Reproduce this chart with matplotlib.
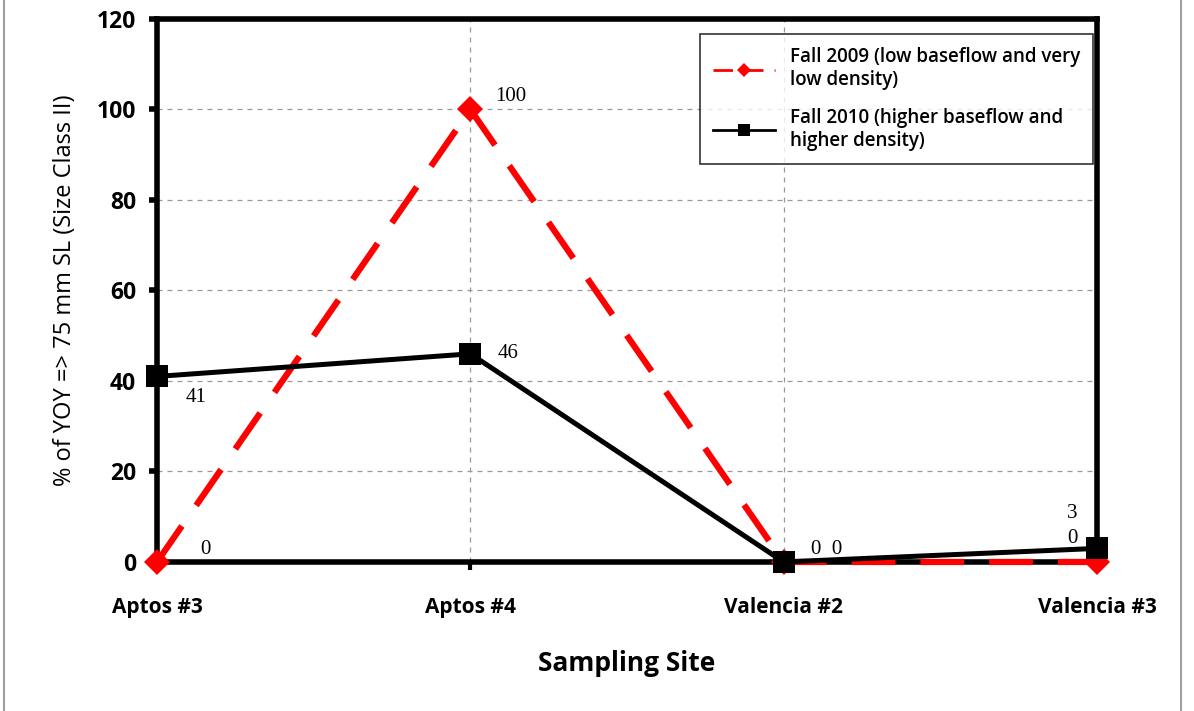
import matplotlib
matplotlib.use("Agg")
import matplotlib.pyplot as plt
from matplotlib.patches import Rectangle

sites = ["Aptos #3", "Aptos #4", "Valencia #2", "Valencia #3"]
fall_2009 = [0, 100, 0, 0]
fall_2010 = [41, 46, 0, 3]
label_2009 = "Fall 2009 (low baseflow and very\nlow density)"
label_2010 = "Fall 2010 (higher baseflow and\nhigher density)"
y_ticks = [0, 20, 40, 60, 80, 100, 120]

SANS = ["Open Sans", "DejaVu Sans"]
SERIF = ["Liberation Serif", "DejaVu Serif"]

fig = plt.figure(figsize=(11.94, 7.11), dpi=100)
fig.patches.append(Rectangle((0.003, -0.1), 0.986, 1.2, transform=fig.transFigure,
                             fill=False, edgecolor="#a0a0a0", linewidth=1.5))
ax = fig.add_axes([0.1315, 0.2096, 0.7873, 0.7637])

x = list(range(len(sites)))
ax.plot(x, fall_2009, color="#ff0000", linewidth=4.5, dashes=(7, 4),
        marker="D", markersize=13, markeredgewidth=0, label=label_2009,
        zorder=3, clip_on=False)
ax.plot(x, fall_2010, color="black", linewidth=3.6,
        marker="s", markersize=16.5, markeredgewidth=0, label=label_2010,
        zorder=4, clip_on=False)

ax.set_xlim(0, 3)
ax.set_ylim(0, 120)
ax.set_yticks(y_ticks)
ax.set_xticks(x)
ax.set_xticklabels(sites, family=SANS, fontsize=15, fontweight="bold")
ax.set_yticklabels([str(v) for v in y_ticks], family=SANS, fontsize=16.5, fontweight="bold")
ax.tick_params(axis="y", length=6, width=4, direction="out", pad=9)
ax.tick_params(axis="x", length=6, width=3, direction="out", pad=19)

for s in ax.spines.values():
    s.set_linewidth(4)
    s.set_color("black")

ax.grid(True, linestyle=(0, (4, 4)), color="#999999", linewidth=0.9)
ax.set_axisbelow(True)

ax.set_xlabel("Sampling Site", family=SANS, fontsize=19, fontweight="bold", labelpad=23)
ax.set_ylabel("% of YOY => 75 mm SL (Size Class II)", family=SANS, fontsize=17, labelpad=14)

# data labels (offsets in points from each point)
lab = dict(family=SERIF, fontsize=15, color="black", zorder=6,
           ha="center", va="center", textcoords="offset points")
ax.annotate("0", (0, fall_2009[0]), xytext=(35, 9), **lab)
ax.annotate("41", (0, fall_2010[0]), xytext=(28, -15), **lab)
ax.annotate("100", (1, fall_2009[1]), xytext=(29, 9), **lab)
ax.annotate("46", (1, fall_2010[1]), xytext=(27, 0), **lab)
ax.annotate("0  0", (2, fall_2010[2]), xytext=(31, 9), **lab)
ax.annotate("3", (3, fall_2010[3]), xytext=(-18, 25), **lab)
ax.annotate("0", (3, fall_2009[3]), xytext=(-18, 17), **lab)

leg = ax.legend(loc="upper right", bbox_to_anchor=(0.9957, 0.9724), borderaxespad=0,
                frameon=True, fancybox=False,
                prop={"family": SANS, "size": 13.5, "weight": "semibold"},
                labelspacing=0.95, handlelength=3.3, borderpad=0.7, markerscale=0.55)
leg.get_frame().set_edgecolor("black")
leg.get_frame().set_linewidth(1.2)
for h in leg.legend_handles:
    h.set_linewidth(2)

fig.savefig("out.png", dpi=100)
